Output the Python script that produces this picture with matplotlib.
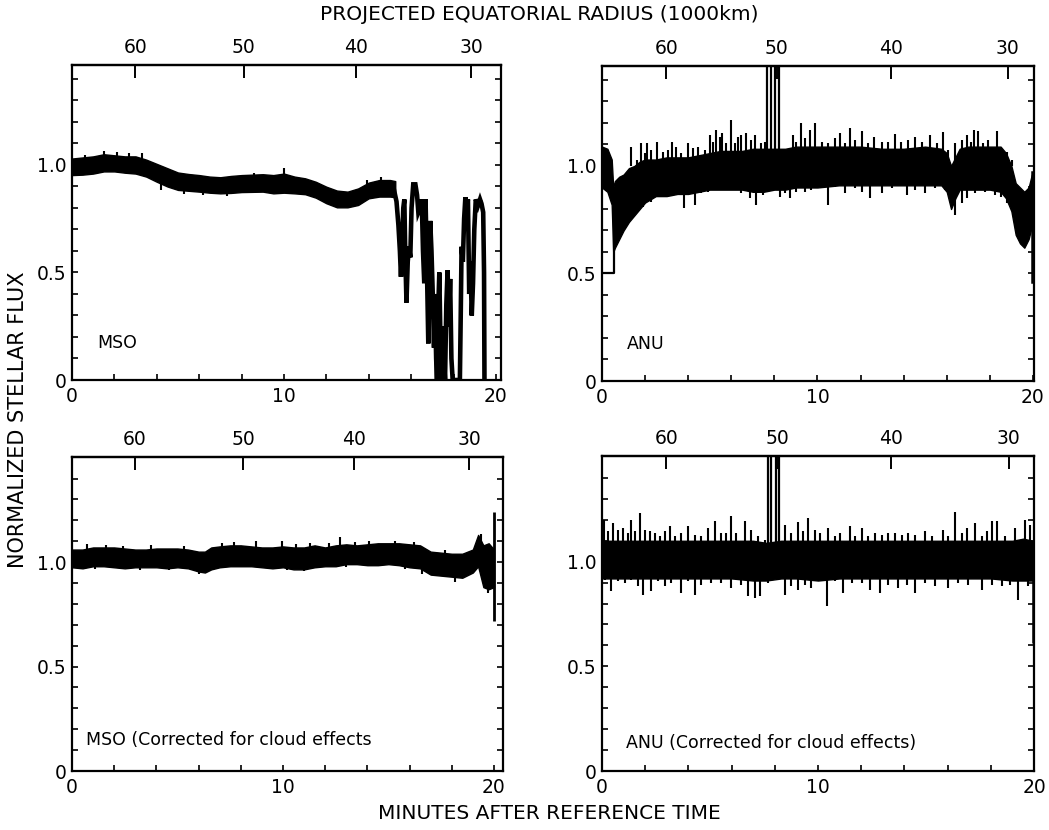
import numpy as np
import matplotlib
matplotlib.use("Agg")
import matplotlib.pyplot as plt

plt.rcParams['font.family'] = ['DejaVu Sans']

# ---------------- data ----------------
RADIUS_TICKS = [60, 50, 40, 30]            # 1000 km
RADIUS_TIME = [2.98, 8.11, 13.39, 18.83]   # minutes where each radius falls

# --- MSO (raw) : band envelope then occultation trace
mso_t = [0, 0.5, 1, 1.5, 2, 2.5, 3, 3.5, 4, 4.5, 5, 5.5, 6, 6.5, 7, 7.5, 8, 8.5, 9, 9.5,
         10, 10.5, 11, 11.5, 12, 12.5, 13, 13.5, 14, 14.5, 15, 15.25]
mso_hi = [1.03, 1.035, 1.04, 1.05, 1.045, 1.04, 1.04, 1.025, 1.005, 0.985, 0.965, 0.958,
          0.953, 0.946, 0.943, 0.949, 0.953, 0.955, 0.957, 0.953, 0.96, 0.946, 0.938, 0.922,
          0.899, 0.881, 0.876, 0.891, 0.918, 0.93, 0.93, 0.925]
mso_lo = [0.953, 0.955, 0.96, 0.97, 0.97, 0.964, 0.96, 0.946, 0.922, 0.90, 0.884, 0.88,
          0.876, 0.871, 0.868, 0.87, 0.874, 0.875, 0.876, 0.868, 0.871, 0.868, 0.864, 0.848,
          0.822, 0.803, 0.803, 0.814, 0.845, 0.853, 0.853, 0.85]
mso_spk_t = [1.5, 2.1, 3.3, 10.0, 4.2, 5.3, 7.3, 0.6, 2.7, 6.2, 8.6, 13.9, 14.6]
mso_spk_a = [0.99, 0.99, 0.99, 0.92, 0.95, 0.92, 0.90, 0.99, 0.99, 0.92, 0.92, 0.88, 0.90]
mso_spk_b = [1.065, 1.06, 1.055, 0.985, 0.885, 0.865, 0.855, 1.045, 1.055, 0.86, 0.965, 0.93, 0.945]
mso_occ_t = [15.2, 15.31, 15.4, 15.47, 15.52, 15.57, 15.63, 15.68, 15.72, 15.78, 15.84, 15.9,
             15.96, 16.02, 16.1, 16.2, 16.28, 16.34, 16.42, 16.5, 16.56, 16.62, 16.68, 16.74,
             16.81, 16.86, 16.9, 16.96, 17.02, 17.08, 17.12, 17.18, 17.22, 17.27, 17.33, 17.38,
             17.44, 17.5, 17.55, 17.6, 17.66, 17.72, 17.78, 17.84, 17.9, 17.96, 18.3, 18.34,
             18.38, 18.44, 18.5, 18.56, 18.62, 18.68, 18.74, 18.8, 18.86, 18.92, 18.98, 19.05,
             19.15, 19.25, 19.32, 19.4, 19.44, 19.46]
mso_occ_f = [0.88, 0.83, 0.72, 0.60, 0.48, 0.62, 0.80, 0.84, 0.60, 0.36, 0.55, 0.62,
             0.57, 0.80, 0.91, 0.91, 0.86, 0.78, 0.80, 0.84, 0.60, 0.45, 0.84, 0.55,
             0.17, 0.45, 0.74, 0.60, 0.40, 0.15, 0.40, 0.10, 0.0, 0.30, 0.50, 0.20,
             0.0, 0.25, 0.10, 0.0, 0.35, 0.51, 0.25, 0.47, 0.10, 0.0, 0.0, 0.30,
             0.62, 0.55, 0.75, 0.85, 0.80, 0.84, 0.40, 0.55, 0.30, 0.45, 0.70, 0.84,
             0.81, 0.84, 0.82, 0.78, 0.50, 0.0]

# --- ANU (raw): core band plus spikes on both edges
anu_t = [0.0, 0.25, 0.45, 0.52, 0.6, 0.8, 1.0, 1.25, 1.5, 1.75, 2.0, 2.5, 3.0, 3.5, 4.0, 4.5,
         5.0, 5.5, 6.0, 6.5, 7.0, 7.5, 8.0, 8.5, 9.0, 9.5, 10.0, 11.0, 12.0, 13.0, 14.0, 15.0,
         15.75, 16.0, 16.2, 16.4, 16.6, 17.0, 17.5, 18.0, 18.5, 18.75, 19.0, 19.2, 19.4, 19.6,
         19.8, 19.95]
anu_hi = [1.09, 1.08, 1.03, 0.90, 0.93, 0.95, 0.96, 0.99, 1.00, 1.02, 1.03, 1.03, 1.04, 1.04,
          1.04, 1.05, 1.06, 1.07, 1.07, 1.07, 1.08, 1.08, 1.08, 1.08, 1.09, 1.09, 1.09, 1.09,
          1.09, 1.08, 1.08, 1.09, 1.08, 1.06, 1.00, 1.04, 1.08, 1.09, 1.09, 1.09, 1.09, 1.06,
          1.00, 0.92, 0.90, 0.88, 0.90, 0.96]
anu_lo = [0.90, 0.88, 0.82, 0.60, 0.62, 0.66, 0.70, 0.74, 0.77, 0.80, 0.83, 0.86, 0.86, 0.87,
          0.87, 0.88, 0.89, 0.89, 0.89, 0.89, 0.88, 0.88, 0.89, 0.89, 0.90, 0.90, 0.90, 0.91,
          0.91, 0.91, 0.91, 0.91, 0.91, 0.88, 0.80, 0.85, 0.89, 0.89, 0.89, 0.89, 0.88, 0.85,
          0.79, 0.68, 0.64, 0.62, 0.66, 0.72]
anu_up_t = [1.36, 1.64, 1.83, 1.98, 2.10, 2.29, 2.57, 2.83, 3.06, 3.25, 3.45, 3.68, 3.99, 4.22,
            4.45, 4.76, 5.0, 5.15, 5.31, 5.46, 5.57, 5.77, 6.0, 6.16, 6.31, 6.47, 6.70, 6.93,
            7.08, 7.39, 7.55, 8.86, 9.0, 9.22, 9.40, 9.64, 9.88, 10.19, 10.5, 10.81, 11.04,
            11.28, 11.51, 11.74, 12.05, 12.36, 12.64, 12.98, 13.29, 13.6, 13.9, 14.21, 14.52,
            14.83, 15.22, 15.53, 15.81, 16.07, 16.38, 16.69, 16.92, 17.12, 17.28, 17.46, 17.7,
            17.93, 18.31, 18.54, 18.78, 19.01]
anu_up_f = [1.09, 1.028, 1.105, 1.059, 1.105, 1.074, 1.113, 1.067, 1.074, 1.113, 1.09, 1.059,
            1.105, 1.082, 1.09, 1.074, 1.144, 1.113, 1.167, 1.136, 1.152, 1.105, 1.214, 1.105,
            1.136, 1.144, 1.152, 1.121, 1.144, 1.105, 1.113, 1.144, 1.11, 1.2, 1.13, 1.167,
            1.198, 1.113, 1.105, 1.129, 1.152, 1.105, 1.175, 1.121, 1.164, 1.105, 1.136, 1.113,
            1.113, 1.149, 1.113, 1.121, 1.136, 1.113, 1.144, 1.105, 1.16, 1.074, 1.105, 1.121,
            1.144, 1.113, 1.167, 1.164, 1.105, 1.121, 1.164, 1.082, 1.067, 1.028]
anu_dn_t = [1.21, 1.52, 1.90, 2.06, 2.29, 2.60, 2.91, 3.22, 3.53, 3.81, 3.99, 4.30, 4.61, 4.92,
            5.38, 5.69, 6.16, 6.47, 6.85, 7.16, 7.47, 7.86, 8.24, 8.48, 8.71, 9.02, 9.40, 9.71,
            10.04, 10.47, 10.81, 11.28, 11.74, 12.05, 12.44, 12.98, 13.44, 14.14, 14.52, 14.99,
            15.45, 15.92, 16.23, 16.38, 16.69, 16.92, 17.3, 17.77, 18.24, 18.54, 18.78]
anu_dn_f = [0.764, 0.81, 0.81, 0.85, 0.834, 0.873, 0.857, 0.881, 0.873, 0.803, 0.873, 0.819,
            0.873, 0.881, 0.888, 0.904, 0.888, 0.873, 0.85, 0.819, 0.865, 0.888, 0.857, 0.873,
            0.85, 0.881, 0.881, 0.888, 0.912, 0.819, 0.904, 0.873, 0.896, 0.881, 0.85, 0.873,
            0.896, 0.865, 0.888, 0.873, 0.896, 0.888, 0.857, 0.772, 0.826, 0.85, 0.873, 0.881,
            0.865, 0.857, 0.826]
anu_tall = [(7.68, 7.84), (8.05, 8.20)]

# --- MSO corrected
msoc_t = [0, 0.5, 1, 1.5, 2, 2.5, 3, 3.5, 4, 4.5, 5, 5.5, 6, 6.3, 6.6, 7, 7.5, 8, 8.5, 9,
          9.5, 10, 10.5, 11, 11.5, 12, 12.5, 13, 13.5, 14, 14.5, 15, 15.5, 16, 16.5, 17, 17.5,
          18, 18.5, 19, 19.25, 19.5, 19.75, 20.0]
msoc_hi = [1.06, 1.06, 1.07, 1.07, 1.07, 1.065, 1.06, 1.06, 1.065, 1.065, 1.065, 1.06, 1.05,
           1.05, 1.07, 1.075, 1.08, 1.08, 1.075, 1.07, 1.07, 1.075, 1.07, 1.07, 1.08, 1.07,
           1.08, 1.085, 1.08, 1.085, 1.09, 1.09, 1.09, 1.085, 1.08, 1.05, 1.045, 1.04, 1.04,
           1.06, 1.13, 1.08, 1.09, 1.06]
msoc_lo = [0.975, 0.97, 0.98, 0.98, 0.975, 0.97, 0.975, 0.975, 0.975, 0.97, 0.975, 0.97, 0.955,
           0.95, 0.965, 0.975, 0.98, 0.98, 0.98, 0.975, 0.97, 0.975, 0.965, 0.965, 0.975, 0.98,
           0.98, 0.99, 0.99, 0.985, 0.985, 0.99, 0.985, 0.975, 0.97, 0.94, 0.935, 0.93, 0.925,
           0.95, 0.98, 0.88, 0.87, 0.88]
msoc_up_t = [0.73, 3.74, 7.7, 8.72, 9.97, 11.3, 12.7, 14.1, 16.2, 19.4, 1.6, 2.4, 5.3, 7.1,
             10.6, 12.2, 13.4, 15.3, 17.7]
msoc_up_f = [1.088, 1.083, 1.096, 1.10, 1.10, 1.09, 1.12, 1.10, 1.096, 1.136, 1.08, 1.078,
             1.078, 1.09, 1.085, 1.09, 1.095, 1.10, 1.06]
msoc_dn_t = [6.0, 10.2, 16.6, 18.15, 19.7, 1.1, 3.2, 4.6, 11.0, 13.0, 15.8]
msoc_dn_f = [0.944, 0.96, 0.944, 0.904, 0.85, 0.965, 0.962, 0.96, 0.955, 0.975, 0.965]
msoc_end_t = 20.02
msoc_end_f = (0.72, 1.24)

# --- ANU corrected: core band plus spikes
anuc_t = [0, 1, 2, 3, 4, 5, 6, 7, 7.6, 8.3, 9, 10, 11, 12, 13, 14, 15, 16, 17, 18, 19, 19.5, 19.95]
anuc_hi = [1.10, 1.10, 1.10, 1.10, 1.10, 1.10, 1.10, 1.10, 1.09, 1.10, 1.10, 1.10, 1.10, 1.10,
           1.10, 1.10, 1.10, 1.10, 1.10, 1.10, 1.10, 1.11, 1.10]
anuc_lo = [0.92, 0.92, 0.92, 0.92, 0.92, 0.92, 0.92, 0.91, 0.91, 0.92, 0.92, 0.91, 0.92, 0.92,
           0.92, 0.92, 0.92, 0.92, 0.92, 0.92, 0.91, 0.91, 0.91]
anuc_up_t = [0.0, 0.09, 0.28, 0.51, 0.74, 0.97, 1.2, 1.36, 1.54, 1.74, 1.98, 2.21, 2.44, 2.67,
             2.90, 3.13, 3.36, 3.67, 3.98, 4.29, 4.60, 4.91, 5.25, 5.52, 5.76, 5.99, 6.22, 6.6,
             6.91, 7.22, 7.53, 8.46, 8.77, 9.07, 9.31, 9.54, 9.85, 10.09, 10.48, 10.79, 11.02,
             11.48, 11.71, 12.02, 12.33, 12.64, 12.95, 13.26, 13.56, 13.87, 14.18, 14.49, 14.95,
             15.26, 15.8, 16.03, 16.34, 16.65, 16.88, 17.27, 17.58, 17.81, 18.04, 18.27, 18.66,
             19.12, 19.35, 19.58, 19.81]
anuc_up_f = [1.137, 1.20, 1.145, 1.185, 1.153, 1.161, 1.137, 1.20, 1.145, 1.235, 1.153, 1.145,
             1.137, 1.121, 1.145, 1.169, 1.121, 1.137, 1.169, 1.129, 1.121, 1.161, 1.193, 1.137,
             1.137, 1.217, 1.137, 1.193, 1.153, 1.121, 1.105, 1.177, 1.137, 1.188, 1.145, 1.209,
             1.153, 1.137, 1.161, 1.121, 1.137, 1.169, 1.121, 1.161, 1.121, 1.137, 1.129, 1.137,
             1.137, 1.129, 1.137, 1.129, 1.145, 1.121, 1.153, 1.121, 1.236, 1.137, 1.161, 1.185,
             1.121, 1.145, 1.193, 1.193, 1.121, 1.161, 1.105, 1.201, 1.177]
anuc_dn_t = [0.12, 0.43, 0.74, 1.05, 1.36, 1.67, 1.9, 2.28, 2.59, 2.9, 3.21, 3.67, 3.98, 4.29,
             4.6, 5.06, 5.52, 5.99, 6.45, 6.76, 7.07, 7.3, 7.69, 8.46, 8.77, 9.07, 9.38, 9.69,
             10.02, 10.4, 10.79, 11.17, 11.56, 12.02, 12.41, 12.87, 13.26, 13.72, 14.1, 14.49,
             14.95, 15.42, 16.03, 16.5, 16.96, 17.58, 18.04, 18.5, 18.89, 19.27, 19.74]
anuc_dn_f = [0.914, 0.858, 0.906, 0.898, 0.914, 0.882, 0.843, 0.858, 0.906, 0.882, 0.898, 0.85,
             0.906, 0.843, 0.89, 0.898, 0.898, 0.874, 0.89, 0.835, 0.827, 0.835, 0.898, 0.843,
             0.882, 0.866, 0.89, 0.874, 0.914, 0.786, 0.906, 0.85, 0.898, 0.898, 0.866, 0.85,
             0.89, 0.874, 0.89, 0.85, 0.898, 0.882, 0.874, 0.898, 0.89, 0.866, 0.89, 0.882,
             0.89, 0.818, 0.882]
anuc_tall = [(7.69, 7.81), (8.07, 8.19)]
anuc_end_t = 19.97
anuc_end_f = (0.61, 1.05)

LABELS = ["MSO", "ANU", "MSO (Corrected for cloud effects", "ANU (Corrected for cloud effects)"]

# ---------------- figure ----------------
W, H = 1049, 830
fig = plt.figure(figsize=(W / 100, H / 100), dpi=100)

def rect(l, r, t, b):
    return [l / W, 1 - b / H, (r - l) / W, (b - t) / H]

axes = [
    fig.add_axes(rect(72, 501, 65, 380)),
    fig.add_axes(rect(602, 1034, 66, 381)),
    fig.add_axes(rect(72, 503, 457, 771)),
    fig.add_axes(rect(602, 1034, 456, 771)),
]
xmax = [20.24, 20.05, 20.43, 20.0]
ymax = [1.465, 1.465, 1.503, 1.505]
label_pos = [(1.2, 0.17), (1.16, 0.172), (0.66, 0.148), (1.11, 0.134)]

for i, ax in enumerate(axes):
    ax.set_xlim(0, xmax[i])
    ax.set_ylim(0, ymax[i])
    for s in ax.spines.values():
        s.set_linewidth(1.6)
    xt = np.arange(0, 21, 2)
    ax.set_xticks(xt)
    ax.set_xticklabels([str(int(v)) if v in (0, 10, 20) else "" for v in xt])
    ax.tick_params(axis='x', which='major', direction='in', length=4, width=1.2,
                   labelsize=13.5, pad=5, top=False)
    yt = np.round(np.arange(0, 1.41, 0.1), 2)
    ax.set_yticks(yt)
    ax.set_yticklabels(["0" if v == 0 else ("0.5" if v == 0.5 else ("1.0" if v == 1.0 else ""))
                        for v in yt])
    ax.tick_params(axis='y', which='major', direction='in', length=4, width=1.2,
                   labelsize=13.5, pad=4, right=True)
    ax.set_yticks([0.5], minor=True)
    ax.tick_params(axis='y', which='minor', direction='in', length=11, width=1.4, right=True)
    sec = ax.secondary_xaxis('top')
    sec.set_xticks(RADIUS_TIME)
    sec.set_xticklabels([str(v) for v in RADIUS_TICKS])
    sec.tick_params(direction='in', length=9, width=1.4, labelsize=13.5, pad=6)
    sec.spines['top'].set_linewidth(1.6)
    ax.text(label_pos[i][0], label_pos[i][1], LABELS[i], fontsize=12.5, va='center', ha='left')

SPK = 1.5

# panel 1: MSO
ax = axes[0]
ax.fill_between(mso_t, mso_lo, mso_hi, color='k', lw=1.0)
ax.vlines(mso_spk_t, mso_spk_a, mso_spk_b, color='k', lw=SPK)
ax.plot(mso_occ_t, mso_occ_f, color='k', lw=3.3, solid_joinstyle='miter')

# panel 2: ANU
ax = axes[1]
ax.fill_between(anu_t, anu_lo, anu_hi, color='k', lw=1.0)
ax.vlines(anu_up_t, 1.0, anu_up_f, color='k', lw=SPK)
ax.vlines(anu_dn_t, 0.95, anu_dn_f, color='k', lw=SPK)
ax.plot([0, 0.56, 0.56], [0.5, 0.5, 0.75], color='k', lw=1.6)
ax.plot([19.98, 19.98], [0.97, 0.46], color='k', lw=1.8)
for a, b in anu_tall:
    ax.plot([a, a, b, b], [1.05, 2.0, 2.0, 1.05], color='k', lw=1.6)

# panel 3: MSO corrected
ax = axes[2]
ax.fill_between(msoc_t, msoc_lo, msoc_hi, color='k', lw=1.0)
ax.vlines(msoc_up_t, 1.02, msoc_up_f, color='k', lw=SPK)
ax.vlines(msoc_dn_t, 1.0, msoc_dn_f, color='k', lw=SPK)
ax.vlines([msoc_end_t], [msoc_end_f[0]], [msoc_end_f[1]], color='k', lw=2.0)

# panel 4: ANU corrected
ax = axes[3]
ax.fill_between(anuc_t, anuc_lo, anuc_hi, color='k', lw=1.0)
ax.vlines(anuc_up_t, 1.0, anuc_up_f, color='k', lw=SPK)
ax.vlines(anuc_dn_t, 1.0, anuc_dn_f, color='k', lw=SPK)
ax.vlines([anuc_end_t], [anuc_end_f[0]], [anuc_end_f[1]], color='k', lw=1.8)
for a, b in anuc_tall:
    ax.plot([a, a, b, b], [1.05, 2.0, 2.0, 1.05], color='k', lw=1.6)

# figure labels
fig.text(539 / W, 1 - 15 / H, "PROJECTED EQUATORIAL RADIUS (1000km)", ha='center', va='center',
         fontsize=14.5)
fig.text(549 / W, 1 - 813 / H, "MINUTES AFTER REFERENCE TIME", ha='center', va='center',
         fontsize=14.5)
fig.text(18 / W, 1 - 420 / H, "NORMALIZED STELLAR FLUX", ha='center', va='center',
         rotation=90, fontsize=15)

fig.savefig("out.png", dpi=100)
